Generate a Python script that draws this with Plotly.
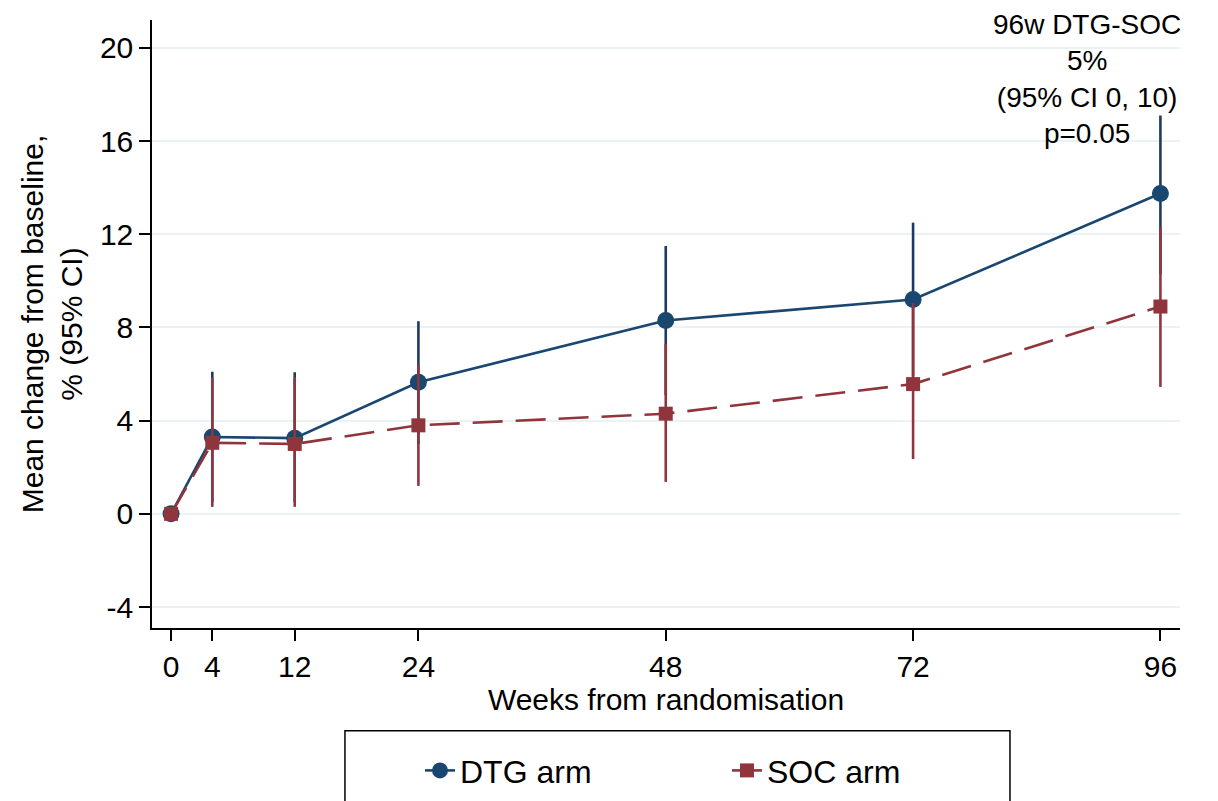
import plotly.graph_objects as go

weeks = [0, 4, 12, 24, 48, 72, 96]
dtg_mean = [0, 3.3, 3.25, 5.65, 8.3, 9.2, 13.75]
dtg_lo = [0, 0.5, 0.5, 3.0, 5.1, 5.9, 10.3]
dtg_hi = [0, 6.1, 6.08, 8.27, 11.5, 12.5, 17.1]
soc_mean = [0, 3.05, 3.0, 3.8, 4.3, 5.57, 8.9]
soc_lo = [0, 0.3, 0.3, 1.2, 1.37, 2.35, 5.45]
soc_hi = [0, 5.87, 5.87, 6.4, 7.3, 9.05, 12.33]
x_ticks = [0, 4, 12, 24, 48, 72, 96]
y_ticks = [-4, 0, 4, 8, 12, 16, 20]

NAVY = "#1a476f"
NAVY_BAR = "#1c3a62"
MAROON = "#90353b"
FONT = "Liberation Sans, Arial, sans-serif"
FS = 30

fig = go.Figure()
fig.add_trace(go.Scatter(
    x=weeks, y=dtg_mean, name="DTG arm", mode="lines+markers",
    line=dict(color=NAVY, width=2.6),
    marker=dict(symbol="circle", size=17, color=NAVY),
    error_y=dict(type="data", symmetric=False,
                 array=[h - m for h, m in zip(dtg_hi, dtg_mean)],
                 arrayminus=[m - l for m, l in zip(dtg_mean, dtg_lo)],
                 color=NAVY_BAR, thickness=2.6, width=0),
))
fig.add_trace(go.Scatter(
    x=weeks, y=soc_mean, name="SOC arm", mode="lines+markers",
    line=dict(color=MAROON, width=2.6, dash="30px,13px"),
    marker=dict(symbol="square", size=14, color=MAROON),
    error_y=dict(type="data", symmetric=False,
                 array=[h - m for h, m in zip(soc_hi, soc_mean)],
                 arrayminus=[m - l for m, l in zip(soc_mean, soc_lo)],
                 color=MAROON, thickness=2.6, width=0),
))

fig.add_annotation(
    x=0.91, y=1.022, xref="paper", yref="paper", xanchor="center", yanchor="top",
    text="96w DTG-SOC<br>5%<br>(95% CI 0, 10)<br>p=0.05", showarrow=False,
    font=dict(size=28, color="black", family=FONT), align="center",
)

# legend box (extends below the page edge as in reference)
fig.add_shape(type="rect", xref="paper", yref="paper",
              x0=0.1877, x1=0.8346, y0=-0.169, y1=-0.40,
              line=dict(color="black", width=1.5), fillcolor="rgba(0,0,0,0)")

fig.update_layout(
    width=1210, height=793,
    margin=dict(l=144, r=38, t=12, b=173),
    paper_bgcolor="white", plot_bgcolor="white",
    font=dict(family=FONT, size=FS, color="black"),
    showlegend=True,
    legend=dict(orientation="h", x=(420 - 8) / 1210, xanchor="left", xref="container",
                y=0.073, yanchor="top", yref="container",
                font=dict(size=32, color="black"),
                entrywidth=262, entrywidthmode="pixels",
                bgcolor="rgba(0,0,0,0)", borderwidth=0),
    xaxis=dict(
        range=[-1.85, 97.9], tickvals=x_ticks, ticktext=[str(v) for v in x_ticks],
        showgrid=False, zeroline=False, showline=True, linecolor="black", linewidth=1.5,
        ticks="outside", ticklen=11, tickwidth=1.5, tickcolor="black",
        tickfont=dict(size=FS),
        title=dict(text="Weeks from randomisation", font=dict(size=FS), standoff=6),
    ),
    yaxis=dict(
        range=[-4.9, 21.2], tickvals=y_ticks, ticktext=[str(v) for v in y_ticks],
        showgrid=True, gridcolor="#eaf2f3", gridwidth=2,
        zeroline=False, showline=True, linecolor="black", linewidth=1.5,
        ticks="outside", ticklen=11, tickwidth=1.5, tickcolor="black",
        tickfont=dict(size=FS),
        title=dict(text="Mean change from baseline,<br>% (95% CI)", font=dict(size=FS), standoff=8),
    ),
)

fig.write_html("out.html")
